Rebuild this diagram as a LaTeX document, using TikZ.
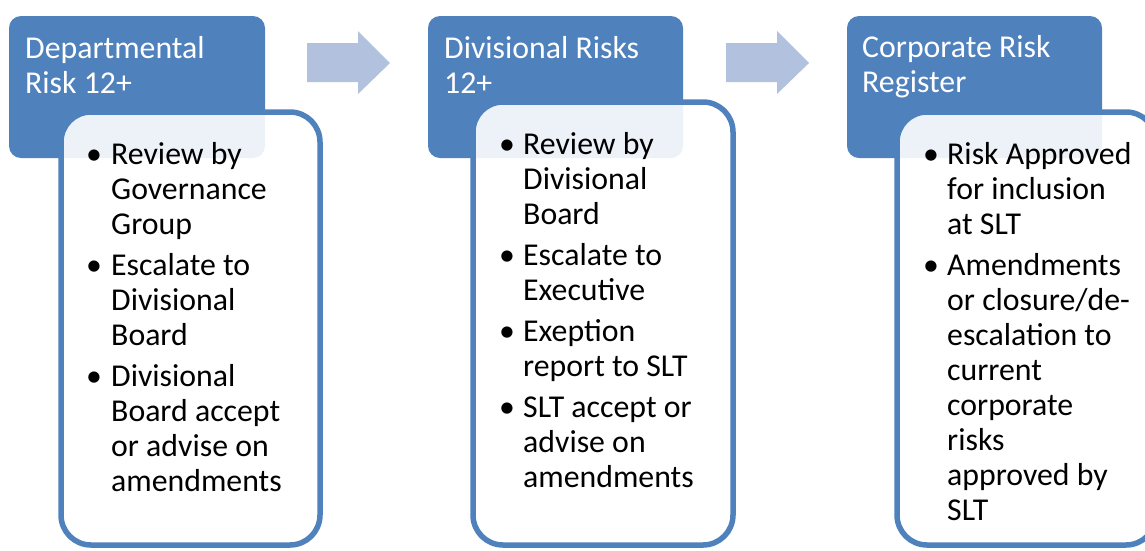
\documentclass[tikz,border=0pt]{standalone}
\usepackage{fontspec}
\setmainfont{Carlito}
\definecolor{hdr}{HTML}{4F81BD}
\definecolor{arr}{HTML}{B1C1DE}
\begin{document}
\begin{tikzpicture}[x=1pt,y=-1pt,
  hdrbox/.style={rectangle, fill=hdr, rounded corners=12pt, minimum width=255pt, minimum height=142pt, inner sep=0pt},
  listbox/.style={rectangle, draw=hdr, line width=5.5pt, fill=white, fill opacity=0.9, rounded corners=30pt, minimum width=259pt, inner sep=0pt},
  ttl/.style={anchor=base west, align=left, inner sep=0pt, text=white, font=\fontsize{31.8}{35}\selectfont},
  itm/.style={anchor=base west, align=left, inner sep=0pt, font=\fontsize{31.8}{35}\selectfont},
  bul/.style={anchor=base, inner sep=0pt, font=\fontsize{31.8}{35}\selectfont},
  arrowshape/.style={fill=arr}]
\useasboundingbox (0,0) rectangle (1145,550);
\clip (0,0) rectangle (1145,550);
% multi-line nodes are anchored at the baseline of their last line

% column 1
\node[hdrbox, minimum width=256pt] (h1) at (137,87) {};
\node[listbox, minimum height=433pt] (l1) at (190.5,328.5) {};
\node[ttl] (t1) at (25,93) {Departmental\\Risk 12+};
\node[bul] (b11) at (94,164) {\textbullet};
\node[itm] (i11) at (111,234) {Review by\\Governance\\Group};
\node[bul] (b12) at (94,275) {\textbullet};
\node[itm] (i12) at (111,345) {Escalate to\\Divisional\\Board};
\node[bul] (b13) at (94,386) {\textbullet};
\node[itm] (i13) at (111,491) {Divisional\\Board accept\\or advise on\\amendments};

% arrow 1
\fill[arrowshape] (307,43) -- (358,43) -- (358,31) -- (390,63) -- (358,94) -- (358,82) -- (307,82) -- cycle;

% column 2
\node[hdrbox] (h2) at (555.5,87) {};
\node[listbox, minimum width=260pt, minimum height=443pt] (l2) at (603,323.5) {};
\node[ttl] (t2) at (444,93) {Divisional Risks\\12+};
\node[bul] (b21) at (507,154) {\textbullet};
\node[itm] (i21) at (523,224) {Review by\\Divisional\\Board};
\node[bul] (b22) at (507,265) {\textbullet};
\node[itm] (i22) at (523,300) {Escalate to\\Executive};
\node[bul] (b23) at (507,341) {\textbullet};
\node[itm] (i23) at (523,376) {Exeption\\report to SLT};
\node[bul] (b24) at (507,417) {\textbullet};
\node[itm] (i24) at (523,487) {SLT accept or\\advise on\\amendments};

% arrow 2
\fill[arrowshape] (726,43) -- (777,43) -- (777,31) -- (809,63) -- (777,94) -- (777,82) -- (726,82) -- cycle;

% column 3
\node[hdrbox] (h3) at (974.5,87) {};
\node[listbox, minimum height=433pt] (l3) at (1026.5,328.5) {};
\node[ttl] (t3) at (862,92) {Corporate Risk\\Register};
\node[bul] (b31) at (931,164) {\textbullet};
\node[itm] (i31) at (947,234) {Risk Approved\\for inclusion\\at SLT};
\node[bul] (b32) at (931,275) {\textbullet};
\node[itm] (i32) at (947,520) {Amendments\\or closure/de-\\escalation to\\current\\corporate\\risks\\approved by\\SLT};
\end{tikzpicture}
\end{document}
